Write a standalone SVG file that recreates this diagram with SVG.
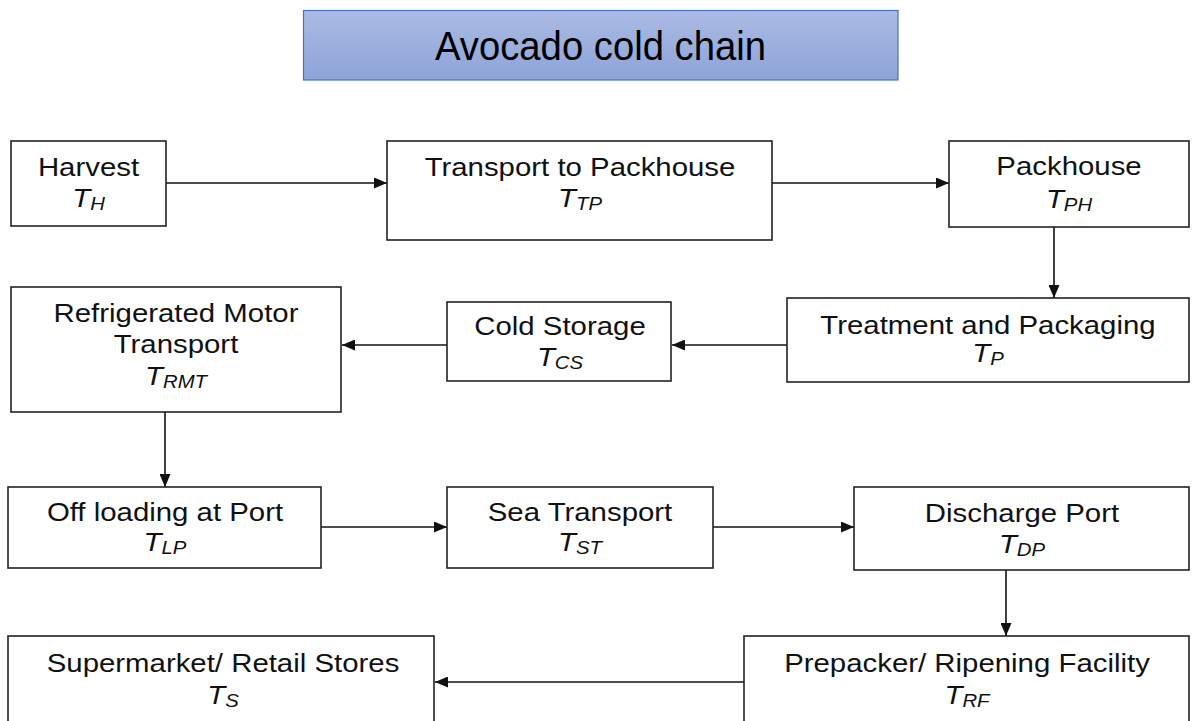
<svg xmlns="http://www.w3.org/2000/svg" width="1192" height="721" viewBox="0 0 1192 721">
<defs>
<linearGradient id="tg" x1="0" y1="0" x2="0" y2="1">
<stop offset="0" stop-color="#aabbe3"/>
<stop offset="1" stop-color="#8da4d9"/>
</linearGradient>
<marker id="ah" markerUnits="userSpaceOnUse" markerWidth="13" markerHeight="11" refX="13" refY="5.5" orient="auto">
<path d="M0,0 L13,5.5 L0,11 z" fill="#111"/>
</marker>
</defs>
<style>
.box{fill:#fff;stroke:#222;stroke-width:1.6}
.t{font-family:"Liberation Sans",Arial,sans-serif;font-size:26px;fill:#111;text-anchor:middle}
.i{font-style:italic}
.s{font-style:italic;font-size:18px}
.c{stroke:#111;stroke-width:1.6;fill:none;marker-end:url(#ah)}
</style>
<rect width="1192" height="721" fill="#fff"/>
<g id="title">
<rect x="303.5" y="10.5" width="594.5" height="69.5" fill="url(#tg)" stroke="#4a72c4" stroke-width="1.2"/>
<text x="600.5" y="60" font-family="Liberation Sans,Arial,sans-serif" font-size="40" fill="#000" text-anchor="middle" textLength="331" lengthAdjust="spacingAndGlyphs">Avocado cold chain</text>
</g>
<g id="connectors">
<line class="c" x1="166" y1="183" x2="387" y2="183"/>
<line class="c" x1="772" y1="183" x2="949" y2="183"/>
<line class="c" x1="1054" y1="227" x2="1054" y2="298"/>
<line class="c" x1="787" y1="345" x2="672" y2="345"/>
<line class="c" x1="447" y1="345" x2="342" y2="345"/>
<line class="c" x1="165" y1="412" x2="165" y2="487"/>
<line class="c" x1="321" y1="527" x2="447" y2="527"/>
<line class="c" x1="713" y1="527" x2="854" y2="527"/>
<line class="c" x1="1006" y1="570" x2="1006" y2="636"/>
<line class="c" x1="744" y1="682" x2="435" y2="682"/>
</g>
<g id="harvest">
<rect class="box" x="11" y="141" width="155" height="85"/>
<g transform="translate(88.5 0) scale(1.13 1)"><text class="t" x="0" y="176">Harvest</text><text class="t" x="0" y="207"><tspan class="i">T</tspan><tspan class="s" dy="3">H</tspan></text></g>
</g>
<g id="transport-packhouse">
<rect class="box" x="387" y="141" width="385" height="99"/>
<g transform="translate(580 0) scale(1.13 1)"><text class="t" x="0" y="176">Transport to Packhouse</text><text class="t" x="0" y="207"><tspan class="i">T</tspan><tspan class="s" dy="3">TP</tspan></text></g>
</g>
<g id="packhouse">
<rect class="box" x="949" y="141" width="240" height="86"/>
<g transform="translate(1069 0) scale(1.13 1)"><text class="t" x="0" y="175">Packhouse</text><text class="t" x="0" y="208"><tspan class="i">T</tspan><tspan class="s" dy="3">PH</tspan></text></g>
</g>
<g id="treatment">
<rect class="box" x="787" y="298" width="402" height="84"/>
<g transform="translate(988 0) scale(1.13 1)"><text class="t" x="0" y="334">Treatment and Packaging</text><text class="t" x="0" y="362"><tspan class="i">T</tspan><tspan class="s" dy="3">P</tspan></text></g>
</g>
<g id="cold-storage">
<rect class="box" x="447" y="302" width="224" height="79"/>
<g transform="translate(560 0) scale(1.13 1)"><text class="t" x="0" y="335">Cold Storage</text><text class="t" x="0" y="366"><tspan class="i">T</tspan><tspan class="s" dy="3">CS</tspan></text></g>
</g>
<g id="refrigerated-motor">
<rect class="box" x="11" y="287" width="330" height="125"/>
<g transform="translate(176 0) scale(1.13 1)"><text class="t" x="0" y="322">Refrigerated Motor</text><text class="t" x="0" y="353">Transport</text><text class="t" x="0" y="385"><tspan class="i">T</tspan><tspan class="s" dy="3">RMT</tspan></text></g>
</g>
<g id="offloading">
<rect class="box" x="8" y="487" width="313" height="81"/>
<g transform="translate(165 0) scale(1.13 1)"><text class="t" x="0" y="521">Off loading at Port</text><text class="t" x="0" y="551"><tspan class="i">T</tspan><tspan class="s" dy="3">LP</tspan></text></g>
</g>
<g id="sea-transport">
<rect class="box" x="447" y="487" width="266" height="81"/>
<g transform="translate(580 0) scale(1.13 1)"><text class="t" x="0" y="521">Sea Transport</text><text class="t" x="0" y="551"><tspan class="i">T</tspan><tspan class="s" dy="3">ST</tspan></text></g>
</g>
<g id="discharge-port">
<rect class="box" x="854" y="487" width="335" height="83"/>
<g transform="translate(1022 0) scale(1.13 1)"><text class="t" x="0" y="522">Discharge Port</text><text class="t" x="0" y="553"><tspan class="i">T</tspan><tspan class="s" dy="3">DP</tspan></text></g>
</g>
<g id="prepacker">
<rect class="box" x="744" y="636" width="445" height="90"/>
<g transform="translate(967 0) scale(1.13 1)"><text class="t" x="0" y="672">Prepacker/ Ripening Facility</text><text class="t" x="0" y="704"><tspan class="i">T</tspan><tspan class="s" dy="3">RF</tspan></text></g>
</g>
<g id="supermarket">
<rect class="box" x="8" y="636" width="426" height="90"/>
<g transform="translate(223 0) scale(1.13 1)"><text class="t" x="0" y="672">Supermarket/ Retail Stores</text><text class="t" x="0" y="704"><tspan class="i">T</tspan><tspan class="s" dy="3">S</tspan></text></g>
</g>
</svg>
